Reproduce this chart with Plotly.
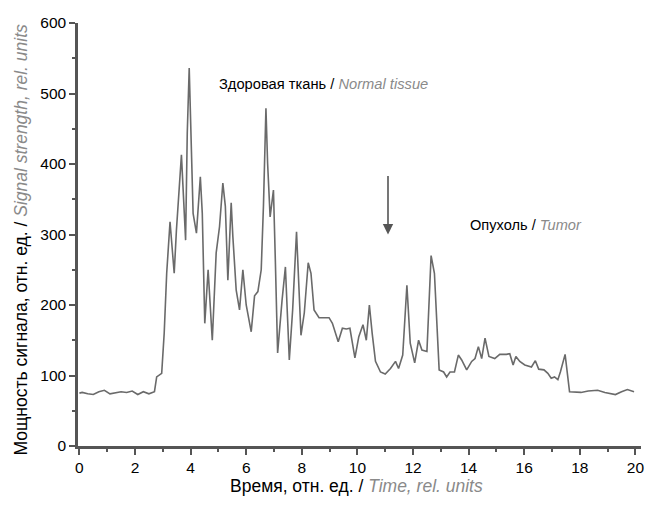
import plotly.graph_objects as go

time = [0.0, 0.1, 0.3, 0.5, 0.7, 0.9, 1.1, 1.3, 1.5, 1.7,
        1.9, 2.1, 2.3, 2.5, 2.7, 2.78, 2.96, 3.05, 3.14, 3.26,
        3.41, 3.49, 3.67, 3.82, 3.88, 3.95, 4.03, 4.09, 4.21, 4.35,
        4.42, 4.51, 4.63, 4.69, 4.78, 4.92, 5.04, 5.16, 5.25, 5.34,
        5.46, 5.52, 5.64, 5.76, 5.88, 6.0, 6.18, 6.3, 6.42, 6.54,
        6.62, 6.71, 6.77, 6.86, 6.98, 7.05, 7.13, 7.29, 7.41, 7.55,
        7.67, 7.81, 7.97, 8.09, 8.23, 8.33, 8.44, 8.62, 8.8, 8.98,
        9.1, 9.31, 9.46, 9.6, 9.73, 9.91, 10.05, 10.2, 10.32, 10.43,
        10.53, 10.65, 10.83, 11.0, 11.19, 11.37, 11.48, 11.63, 11.78, 11.9,
        12.06, 12.2, 12.32, 12.5, 12.65, 12.77, 12.94, 13.1, 13.21, 13.33,
        13.49, 13.63, 13.75, 13.93, 14.11, 14.23, 14.35, 14.47, 14.59, 14.73,
        14.94, 15.12, 15.36, 15.48, 15.6, 15.7, 15.84, 16.02, 16.26, 16.4,
        16.52, 16.71, 16.85, 16.97, 17.09, 17.21, 17.3, 17.47, 17.63, 17.8,
        18.04, 18.3, 18.64, 18.9, 19.28, 19.5, 19.71, 19.95]

signal = [75, 76, 74, 73, 77, 79, 74, 75, 77, 76,
          78, 73, 77, 74, 77, 98, 103, 160, 245, 318,
          245, 306, 413, 292, 444, 536, 434, 330, 302, 382,
          330, 174, 250, 207, 150, 274, 311, 373, 340, 235,
          345, 297, 221, 193, 250, 200, 162, 213, 219, 250,
          340, 479, 401, 325, 363, 260, 132, 207, 254, 122,
          193, 304, 157, 189, 260, 245, 193, 182, 182, 182,
          174, 148, 167, 166, 167, 125, 155, 172, 150, 200,
          160, 120, 105, 102, 110, 120, 110, 129, 228, 146,
          118, 150, 136, 134, 270, 245, 108, 105, 98, 105,
          105, 129, 122, 108, 120, 124, 141, 124, 153, 127,
          124, 130, 130, 131, 115, 127, 120, 115, 112, 121,
          109, 108, 103, 96, 98, 94, 105, 130, 77, 77,
          76, 78, 79, 76, 73, 77, 80, 77]

x_ticks = [0, 2, 4, 6, 8, 10, 12, 14, 16, 18, 20]
y_ticks = [0, 100, 200, 300, 400, 500, 600]

label_normal = "Здоровая ткань / <i><span style='color:#8a8a8a'>Normal tissue</span></i>"
label_tumor = "Опухоль / <i><span style='color:#8a8a8a'>Tumor</span></i>"
title_x = "Время, отн. ед. / <i><span style='color:#8a8a8a'>Time, rel. units</span></i>"
title_y = "Мощность сигнала, отн. ед. / <i><span style='color:#8a8a8a'>Signal strength, rel. units</span></i>"

FONT = "Liberation Sans, Arial, sans-serif"
AXIS_COLOR = "#555555"

fig = go.Figure()
fig.add_trace(go.Scatter(x=time, y=signal, mode="lines",
                         line=dict(color="#6a6a6a", width=1.6),
                         showlegend=False, hoverinfo="skip"))

fig.update_layout(
    width=648, height=521,
    margin=dict(l=78, r=4, t=23, b=75),
    paper_bgcolor="white", plot_bgcolor="white",
    font=dict(family=FONT, size=15, color="black"),
    xaxis=dict(range=[-0.05, 20.2], tickvals=x_ticks, ticktext=[str(v) for v in x_ticks],
               showgrid=False, zeroline=False, showline=True, linecolor=AXIS_COLOR, linewidth=2.5,
               ticks="outside", ticklen=6, tickwidth=2, tickcolor=AXIS_COLOR,
               minor=dict(dtick=1, ticks="outside", ticklen=3, tickwidth=2, tickcolor=AXIS_COLOR),
               tickfont=dict(size=15.5, family=FONT)),
    yaxis=dict(range=[0, 600], tickvals=y_ticks, ticktext=[str(v) for v in y_ticks],
               showgrid=False, zeroline=False, showline=True, linecolor=AXIS_COLOR, linewidth=2.5,
               ticks="outside", ticklen=6, tickwidth=2, tickcolor=AXIS_COLOR,
               minor=dict(dtick=50, ticks="outside", ticklen=3, tickwidth=2, tickcolor=AXIS_COLOR),
               tickfont=dict(size=15.5, family=FONT)),
)

fig.add_annotation(x=8.77, y=513, xref="x", yref="y", text=label_normal, showarrow=False,
                   xanchor="center", yanchor="middle",
                   font=dict(size=14.7, family=FONT, color="black"))
fig.add_annotation(x=16.06, y=313, xref="x", yref="y", text=label_tumor, showarrow=False,
                   xanchor="center", yanchor="middle",
                   font=dict(size=14.6, family=FONT, color="black"))
fig.add_annotation(x=0.494, y=-0.095, xref="paper", yref="paper", text=title_x, showarrow=False,
                   xanchor="center", yanchor="middle",
                   font=dict(size=17.5, family=FONT, color="black"))
fig.add_annotation(x=-0.102, y=0.487, xref="paper", yref="paper", text=title_y, showarrow=False,
                   xanchor="center", yanchor="middle",
                   textangle=-90, font=dict(size=17.5, family=FONT, color="black"))
fig.add_annotation(x=11.1, y=300, ax=11.1, ay=385, xref="x", yref="y", axref="x", ayref="y",
                   text="", showarrow=True, arrowhead=2, arrowsize=1.3, arrowwidth=1.6,
                   arrowcolor="#555555")

fig.write_html("out.html", config={"displayModeBar": False},
               post_script="document.body.style.margin='0';document.body.style.overflow='hidden';")
